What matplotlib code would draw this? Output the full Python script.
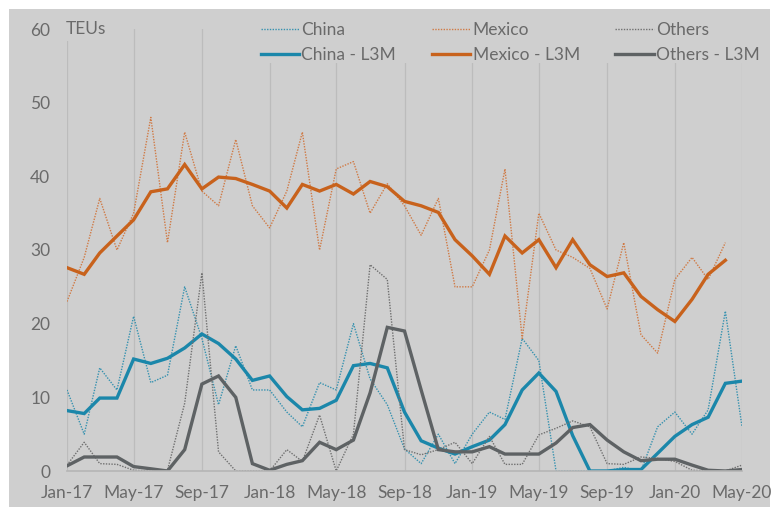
import matplotlib
matplotlib.use("Agg")
import matplotlib.pyplot as plt
import matplotlib.dates as mdates
import numpy as np
import pandas as pd
from matplotlib.patches import Rectangle

# Monthly TEUs, Jan-17 .. May-20
months = pd.date_range("2017-01-01", periods=41, freq="MS")

china = [11, 5, 14, 11, 21, 12, 13, 25, 18, 9, 17, 11, 11, 8, 6, 12, 11, 20, 12.5, 9,
         3, 1, 5, 1, 5, 8, 7, 18, 15, 0, 0, 0, 0, 0.5, 0, 6, 8, 5, 8.3, 21.7, 6]
china_l3m = [8.2, 7.8, 9.9, 9.9, 15.2, 14.6, 15.3, 16.7, 18.6, 17.3, 15.2, 12.3, 12.9, 10.1,
             8.3, 8.5, 9.6, 14.3, 14.6, 14, 8, 4.1, 3.1, 2.3, 3.3, 4.2, 6.3, 11, 13.3, 10.8,
             4.8, 0, 0, 0.2, 0.2, 2.4, 4.7, 6.3, 7.3, 11.9, 12.2]

# Mexico stops at Apr-20
mexico = [23, 29, 37, 30, 35, 48, 31, 46, 38, 36, 45, 36, 33, 38, 46, 30, 41, 42, 35, 39,
          36, 32, 37, 25, 25, 30, 41, 18, 35, 30, 29, 27.5, 22, 31, 18.5, 16, 26, 29, 26, 31]
mexico_l3m = [27.6, 26.7, 29.6, 31.9, 34.1, 37.9, 38.3, 41.6, 38.3, 39.9, 39.7, 38.9, 38,
              35.7, 38.9, 38, 38.9, 37.6, 39.3, 38.6, 36.6, 36, 35.1, 31.4, 29.2, 26.7, 31.9,
              29.6, 31.4, 27.6, 31.4, 28, 26.4, 26.9, 23.7, 21.9, 20.3, 23.3, 26.7, 28.6]

others = [0.8, 3.9, 1, 0.9, 0.1, 0, 0.1, 9.2, 26.9, 2.6, 0, 0, 0, 2.9, 1.3, 7.6, 0, 5, 28,
          26, 2.9, 2.2, 2.9, 3.9, 1, 4.7, 0.9, 0.9, 4.9, 5.8, 6.8, 6, 1, 0.9, 1.9, 1.7, 1.3,
          0.1, 0, 0, 0.8]
others_l3m = [0.7, 1.9, 1.9, 1.9, 0.6, 0.3, 0, 2.9, 11.8, 12.9, 10, 1, 0.1, 0.9, 1.4, 3.9,
              2.9, 4.2, 10.6, 19.5, 19, 11, 2.9, 2.6, 2.6, 3.3, 2.3, 2.3, 2.3, 3.8, 5.9, 6.3,
              4.2, 2.6, 1.4, 1.6, 1.6, 0.8, 0.1, 0, 0.2]

BLUE = "#1b87aa"
ORANGE = "#c8621c"
GREY = "#5e6264"
BG = "#cfcfcf"
TXT = "#6a6a6a"

plt.rcParams["font.family"] = ["Lato", "DejaVu Sans"]

fig = plt.figure(figsize=(7.76, 5.16), dpi=100, facecolor="white")
fig.patches.append(Rectangle((9 / 776, 9 / 516), 761 / 776, 498 / 516,
                             transform=fig.transFigure, facecolor=BG,
                             edgecolor="none", zorder=-10))
ax = fig.add_axes([67 / 776, 45 / 516, 675 / 776, 442 / 516])
ax.set_facecolor(BG)

dot = (0, (1, 1))
n_mx = len(mexico)
ax.plot(months, china, color=BLUE, lw=1.0, ls=dot, label="China", alpha=0.85)
ax.plot(months, china_l3m, color=BLUE, lw=2.4, label="China - L3M",
        solid_joinstyle="miter")
ax.plot(months[:n_mx], mexico, color="#cf7a45", lw=1.0, ls=dot, label="Mexico")
ax.plot(months[:n_mx], mexico_l3m, color=ORANGE, lw=2.4, label="Mexico - L3M",
        solid_joinstyle="miter")
ax.plot(months, others, color="#707070", lw=1.0, ls=dot, label="Others")
ax.plot(months, others_l3m, color=GREY, lw=2.4, label="Others - L3M",
        solid_joinstyle="miter")

ax.set_xlim(months[0], months[-1])
ax.set_ylim(0, 60)
ax.set_yticks(range(0, 61, 10))
ax.xaxis.set_major_locator(mdates.MonthLocator(bymonth=[1, 5, 9]))
ax.xaxis.set_major_formatter(mdates.DateFormatter("%b-%y"))
ax.tick_params(length=0, labelsize=12.5, colors=TXT)
ax.tick_params(axis="x", pad=10)
ax.tick_params(axis="y", pad=12)

ax.grid(axis="x", color="#bcbcbc", lw=0.9)
ax.set_axisbelow(True)
for s in ["top", "right", "left"]:
    ax.spines[s].set_visible(False)
ax.spines["bottom"].set_color("#b5b5b5")
ax.spines["bottom"].set_linewidth(1.2)

ax.annotate("TEUs", xy=(months[0], 60), xytext=(-1, 0), textcoords="offset points",
            ha="left", va="center", fontsize=12.5, color=TXT,
            bbox=dict(facecolor=BG, edgecolor="none", pad=3), zorder=5)

leg = ax.legend(ncol=3, loc="upper right", bbox_to_anchor=(760 / 776, 494 / 516),
                bbox_transform=fig.transFigure,
                frameon=True, fontsize=12.5, handlelength=2.2, handletextpad=0.15,
                columnspacing=2.05, labelspacing=0.52, borderaxespad=0, borderpad=0)
leg.get_frame().set_facecolor(BG)
leg.get_frame().set_edgecolor("none")
leg.get_frame().set_alpha(1)
for t in leg.get_texts():
    t.set_color(TXT)

fig.savefig("out.png", dpi=100, facecolor="white")
